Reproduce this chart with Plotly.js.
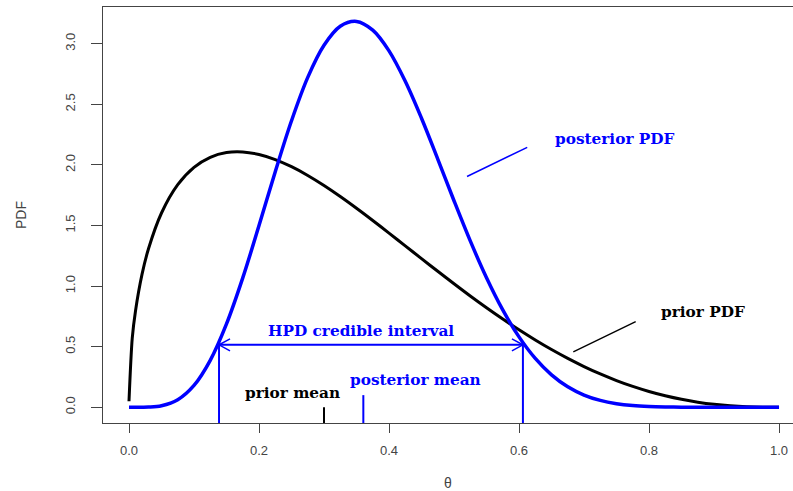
<!DOCTYPE html>
<html>
<head>
<meta charset="utf-8">
<script src="https://cdn.plot.ly/plotly-3.0.1.min.js"></script>
<style>html,body{margin:0;padding:0;background:#fff;overflow:hidden}</style>
</head>
<body>
<div id="chart" style="width:793px;height:491px"></div>
<script>
// theta grid
var theta = [0, 0.005, 0.01, 0.02, 0.03, 0.05, 0.075, 0.1, 0.125, 0.15, 0.175, 0.2, 0.225, 0.25, 0.275, 0.3,
  0.325, 0.35, 0.375, 0.4, 0.425, 0.45, 0.475, 0.5, 0.525, 0.55, 0.575, 0.6, 0.625, 0.65, 0.675, 0.7,
  0.725, 0.75, 0.775, 0.8, 0.825, 0.85, 0.875, 0.9, 0.925, 0.95, 0.975, 1.0];
// prior PDF (black)
var priorPdf = [0.05, 0.57, 0.795, 1.096, 1.308, 1.603, 1.837, 1.98, 2.063, 2.102, 2.107, 2.086, 2.044, 1.985, 1.913, 1.83,
  1.739, 1.642, 1.541, 1.437, 1.332, 1.226, 1.122, 1.019, 0.918, 0.821, 0.728, 0.639, 0.555, 0.476, 0.403, 0.336,
  0.275, 0.2205, 0.172, 0.1304, 0.0948, 0.0655, 0.0421, 0.0244, 0.0121, 0.0044, 0.0008, 0];
// posterior PDF (blue)
var posteriorPdf = [0, 0, 0, 0.0003, 0.0015, 0.0126, 0.0623, 0.1803, 0.3873, 0.6877, 1.0677, 1.499, 1.944, 2.364, 2.722, 2.987,
  3.144, 3.184, 3.112, 2.941, 2.69, 2.385, 2.048, 1.704, 1.3726, 1.0687, 0.8029, 0.5809, 0.4033, 0.2677, 0.169, 0.1008,
  0.0563, 0.0292, 0.0138, 0.0059, 0.0022, 0.0007, 0.0002, 0.00003, 0, 0, 0, 0];

var hpdBounds = [0.1385, 0.606];
var hpdLevel = 0.515;
var priorMean = 0.3;
var posteriorMean = 0.3605;

var xTicks = [0, 0.2, 0.4, 0.6, 0.8, 1.0];
var xTickLabels = ["0.0", "0.2", "0.4", "0.6", "0.8", "1.0"];
var yTicks = [0, 0.5, 1.0, 1.5, 2.0, 2.5, 3.0];
var yTickLabels = ["0.0", "0.5", "1.0", "1.5", "2.0", "2.5", "3.0"];

var BLUE = '#0000ff';
var BLACK = '#000000';

var traces = [
  {x: theta, y: priorPdf, type: 'scatter', mode: 'lines',
   line: {color: BLACK, width: 3, shape: 'spline', smoothing: 0.8}, hoverinfo: 'skip'},
  {x: theta, y: posteriorPdf, type: 'scatter', mode: 'lines',
   line: {color: BLUE, width: 3.5, shape: 'spline', smoothing: 1}, hoverinfo: 'skip'}
];

var shapes = [
  // HPD bounds vertical lines
  {type: 'line', xref: 'x', yref: 'y', x0: hpdBounds[0], x1: hpdBounds[0], y0: -0.3, y1: hpdLevel,
   line: {color: BLUE, width: 2}},
  {type: 'line', xref: 'x', yref: 'y', x0: hpdBounds[1], x1: hpdBounds[1], y0: -0.3, y1: hpdLevel,
   line: {color: BLUE, width: 2}},
  // HPD horizontal double arrow
  {type: 'line', xref: 'x', yref: 'y', x0: hpdBounds[0], x1: hpdBounds[1], y0: hpdLevel, y1: hpdLevel,
   line: {color: BLUE, width: 2}},
  {type: 'path', xref: 'x', yref: 'y', xsizemode: 'pixel', ysizemode: 'pixel',
   xanchor: hpdBounds[0], yanchor: hpdLevel, path: 'M 11 6 L 0 0 L 11 -6',
   line: {color: BLUE, width: 1.5}},
  {type: 'path', xref: 'x', yref: 'y', xsizemode: 'pixel', ysizemode: 'pixel',
   xanchor: hpdBounds[1], yanchor: hpdLevel, path: 'M -11 6 L 0 0 L -11 -6',
   line: {color: BLUE, width: 1.5}},
  // mean markers
  {type: 'line', xref: 'x', yref: 'y', x0: priorMean, x1: priorMean, y0: -0.3, y1: 0,
   line: {color: BLACK, width: 2}},
  {type: 'line', xref: 'x', yref: 'y', x0: posteriorMean, x1: posteriorMean, y0: -0.3, y1: 0.1,
   line: {color: BLUE, width: 2}},
  // pointer lines
  {type: 'line', xref: 'x', yref: 'y', x0: 0.52, x1: 0.6126, y0: 1.904, y1: 2.145,
   line: {color: BLUE, width: 1.5}},
  {type: 'line', xref: 'x', yref: 'y', x0: 0.6835, x1: 0.7795, y0: 0.457, y1: 0.707,
   line: {color: BLACK, width: 1.5}}
];

var annFont = function (c) { return {family: 'DejaVu Serif', size: 15.3, color: c, weight: 'bold'}; };
var annotations = [
  {text: '<b>posterior PDF</b>', x: 0.748, y: 2.217, xref: 'x', yref: 'y', showarrow: false, font: annFont(BLUE)},
  {text: '<b>prior PDF</b>', x: 0.883, y: 0.788, xref: 'x', yref: 'y', showarrow: false, font: annFont(BLACK)},
  {text: '<b>HPD credible interval</b>', x: 0.357, y: 0.631, xref: 'x', yref: 'y', showarrow: false, font: annFont(BLUE)},
  {text: '<b>posterior mean</b>', x: 0.4415, y: 0.226, xref: 'x', yref: 'y', showarrow: false, font: annFont(BLUE)},
  {text: '<b>prior mean</b>', x: 0.251, y: 0.118, xref: 'x', yref: 'y', showarrow: false, font: annFont(BLACK)}
];

var axisFont = {family: 'Liberation Sans, Arial, sans-serif', size: 13, color: '#444'};

var layout = {
  width: 793, height: 491,
  margin: {l: 103, r: 0, t: 7, b: 68, pad: 0},
  paper_bgcolor: '#fff', plot_bgcolor: '#fff',
  showlegend: false,
  xaxis: {
    range: [-0.04, 1.0215], tickvals: xTicks, ticktext: xTickLabels,
    showgrid: false, zeroline: false, showline: true, mirror: true, linecolor: '#444', linewidth: 1,
    ticks: 'outside', ticklen: 9, tickcolor: '#444', tickwidth: 1, tickfont: axisFont,
    ticklabelstandoff: 6,
    title: {text: 'θ', font: {family: 'Liberation Sans, Arial, sans-serif', size: 14, color: '#444'}, standoff: 21}
  },
  yaxis: {
    range: [-0.13, 3.303], tickvals: yTicks, ticktext: yTickLabels, tickangle: -90,
    showgrid: false, zeroline: false, showline: true, mirror: true, linecolor: '#444', linewidth: 1,
    ticks: 'outside', ticklen: 11, tickcolor: '#444', tickwidth: 1, tickfont: axisFont,
    ticklabelstandoff: 11,
    title: {text: 'PDF', font: {family: 'Liberation Sans, Arial, sans-serif', size: 14, color: '#444'}, standoff: 32}
  },
  shapes: shapes,
  annotations: annotations
};

Plotly.newPlot('chart', traces, layout, {displayModeBar: false, staticPlot: true});
</script>
</body>
</html>
